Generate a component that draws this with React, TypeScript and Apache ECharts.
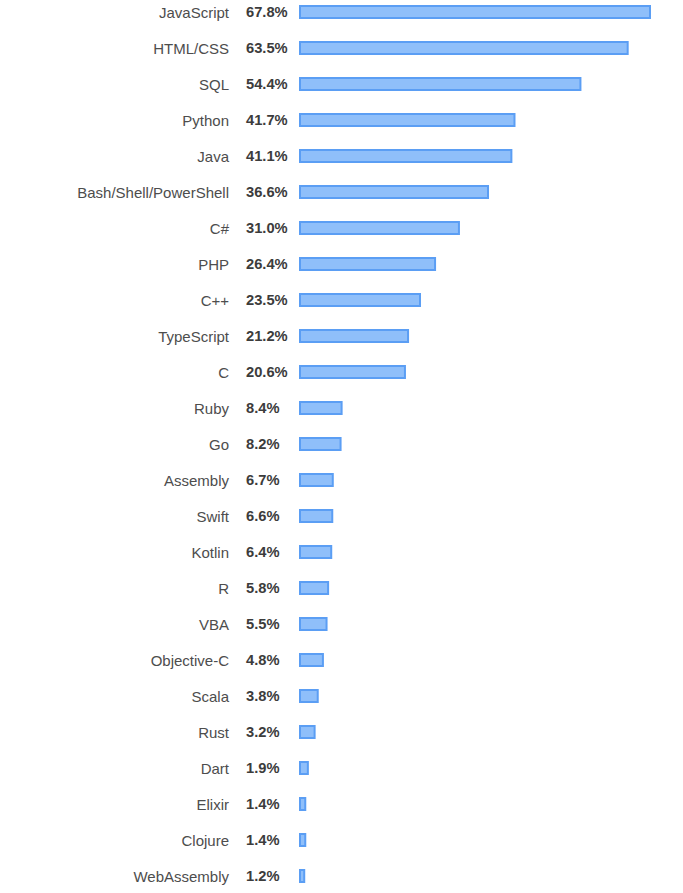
import { useEffect, useRef } from 'react';
import * as echarts from 'echarts';

const languages = [
  'JavaScript', 'HTML/CSS', 'SQL', 'Python', 'Java', 'Bash/Shell/PowerShell', 'C#', 'PHP', 'C++',
  'TypeScript', 'C', 'Ruby', 'Go', 'Assembly', 'Swift', 'Kotlin', 'R', 'VBA', 'Objective-C',
  'Scala', 'Rust', 'Dart', 'Elixir', 'Clojure', 'WebAssembly',
];
const shares = [
  67.8, 63.5, 54.4, 41.7, 41.1, 36.6, 31.0, 26.4, 23.5, 21.2, 20.6, 8.4, 8.2, 6.7, 6.6, 6.4, 5.8,
  5.5, 4.8, 3.8, 3.2, 1.9, 1.4, 1.4, 1.2,
];

const font = '"Liberation Sans", Arial, sans-serif';

export default function App() {
  const chartRef = useRef<HTMLDivElement>(null);

  useEffect(() => {
    if (!chartRef.current) return;
    const chart = echarts.init(chartRef.current, null, { renderer: 'svg' });
    chart.setOption({
      animation: false,
      textStyle: { fontFamily: font },
      grid: { left: 299, top: 0, width: 352, height: 900 },
      xAxis: { type: 'value', min: 0, max: 67.8, show: false },
      yAxis: {
        type: 'category',
        inverse: true,
        data: languages,
        axisLine: { show: false },
        axisTick: { show: false },
        splitLine: { show: false },
        axisLabel: { margin: 70, fontSize: 15, color: '#4d4d4d', fontFamily: font },
      },
      series: [
        {
          type: 'bar',
          data: shares,
          barWidth: 14,
          itemStyle: { color: '#8fbffa', borderColor: '#5b9ef4', borderWidth: 2 },
          label: {
            show: true,
            position: [-53, '50%'],
            align: 'left',
            verticalAlign: 'middle',
            fontSize: 14.7,
            fontWeight: 'bold',
            color: '#3c3c3c',
            fontFamily: font,
            formatter: (p: any) => `${p.value.toFixed(1)}%`,
          },
        },
      ],
    });
    return () => chart.dispose();
  }, []);

  return (
    <div style={{ position: 'absolute', left: 0, top: 0, width: 683, height: 893, overflow: 'hidden', background: '#fff' }}>
      <div ref={chartRef} style={{ position: 'absolute', left: 0, top: -6, width: 683, height: 900 }} />
    </div>
  );
}
